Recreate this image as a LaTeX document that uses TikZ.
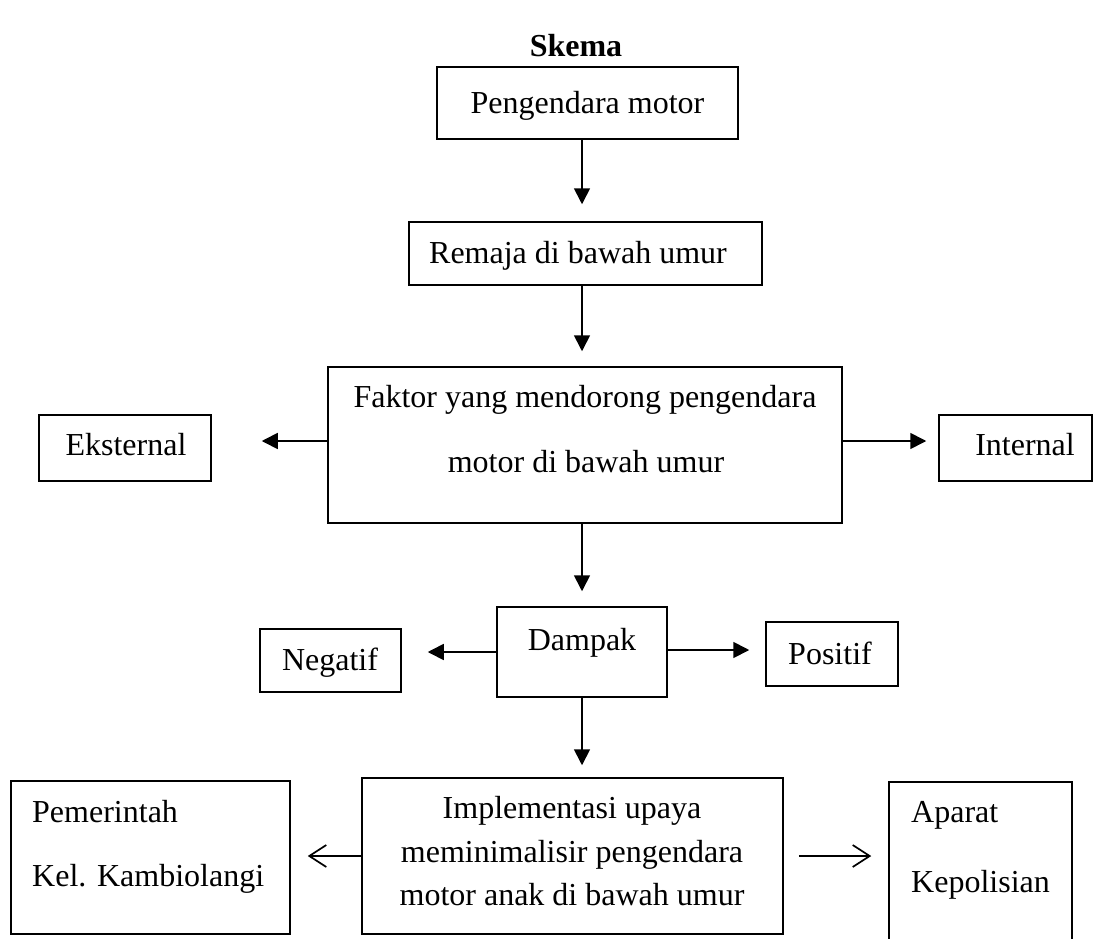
\documentclass[tikz,border=0pt]{standalone}
\usepackage{fontspec}
\setmainfont{Liberation Serif}
\usetikzlibrary{arrows.meta}
\begin{document}
\begin{tikzpicture}[x=1pt,y=-1pt,
  box/.style={draw, line width=1.5pt, inner sep=0pt},
  txt/.style={inner sep=0pt, font=\fontsize{32}{38}\selectfont, text height=0.68em, text depth=0.22em},
  arr/.style={line width=1.7pt, -{Triangle[length=16pt,width=16pt]}},
  oarr/.style={line width=1.7pt, -{Straight Barb[length=17pt,width=22pt]}},
]
\useasboundingbox (0,0) rectangle (1105,939);
\clip (0,0) rectangle (1105,939);

\node[txt, font=\bfseries\fontsize{32}{38}\selectfont] (title) at (576,54) {Skema};

% boxes
\node[box, minimum width=301pt, minimum height=72pt] (peng) at (587.5,103) {};
\node[txt] (pengT) at (587.5,111) {Pengendara motor};
\node[box, minimum width=353pt, minimum height=63pt] (rem) at (585.5,253.5) {};
\node[txt] (remT) at (578,261) {Remaja di bawah umur};
\node[box, minimum width=514pt, minimum height=156pt] (fak) at (585,445) {};
\node[txt] (fakT1) at (585,405) {Faktor yang mendorong pengendara};
\node[txt] (fakT2) at (586,470) {motor di bawah umur};
\node[box, minimum width=172pt, minimum height=66pt] (eks) at (125,448) {};
\node[txt] (eksT) at (126,453) {Eksternal};
\node[box, minimum width=153pt, minimum height=66pt] (int) at (1015.5,448) {};
\node[txt] (intT) at (1025,453) {Internal};
\node[box, minimum width=170pt, minimum height=90pt] (dam) at (582,652) {};
\node[txt] (damT) at (582,648) {Dampak};
\node[box, minimum width=141pt, minimum height=63pt] (neg) at (330.5,660.5) {};
\node[txt] (negT) at (330,668) {Negatif};
\node[box, minimum width=132pt, minimum height=64pt] (pos) at (832,654) {};
\node[txt] (posT) at (830,662) {Positif};
\node[box, minimum width=421pt, minimum height=156pt] (imp) at (572.5,856) {};
\node[txt] (impT1) at (572,816) {Implementasi upaya};
\node[txt] (impT2) at (572,860) {meminimalisir pengendara};
\node[txt] (impT3) at (572,903) {motor anak di bawah umur};
\node[box, minimum width=279pt, minimum height=153pt] (pem) at (150.5,857.5) {};
\node[txt, anchor=west] (pemT1) at (32,820) {Pemerintah};
\node[txt, anchor=west] (pemT2) at (32,884) {Kel. Kambiolangi};
\node[box, minimum width=183pt, minimum height=218pt] (apa) at (980.5,891) {};
\node[txt, anchor=west] (apaT1) at (911,820) {Aparat};
\node[txt, anchor=west] (apaT2) at (911,890) {Kepolisian};

% helper levels
\coordinate (fy) at (0,441);
\coordinate (dy) at (0,650);

% connectors
\draw[arr, shorten >=17pt] (peng.south -| dam.center) -- (rem.north -| dam.center);
\draw[arr, shorten >=15pt] (rem.south -| dam.center) -- (fak.north -| dam.center);
\draw[arr, shorten >=15pt] (fak.south -| dam.center) -- (dam.north);
\draw[arr, shorten >=12pt] (dam.south) -- (imp.north -| dam.center);
\draw[arr, shorten >=50pt] (fak.west |- fy) -- (eks.east |- fy);
\draw[arr, shorten >=12pt] (fak.east |- fy) -- (int.west |- fy);
\draw[arr, shorten >=26pt] (dam.west) -- (neg.east |- dam.west);
\draw[arr, shorten >=16pt] (dam.east |- dy) -- (pos.west |- dy);
\draw[oarr, shorten >=17pt] (imp.west) -- (pem.east |- imp.west);
\draw[oarr, shorten <=15pt, shorten >=17pt] (imp.east) -- (apa.west |- imp.east);
\end{tikzpicture}
\end{document}
